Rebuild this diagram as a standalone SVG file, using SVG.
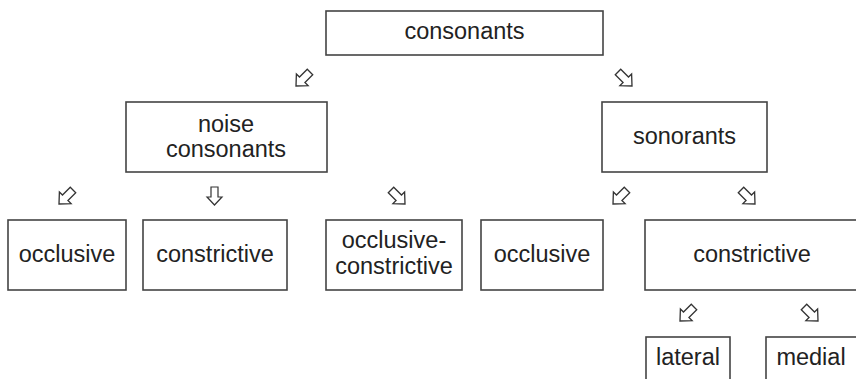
<svg xmlns="http://www.w3.org/2000/svg" width="856" height="379" viewBox="0 0 856 379">
<defs>
<style>
.box{fill:#fff;stroke:#444;stroke-width:1.6}
.t{font-family:"Liberation Sans",Arial,sans-serif;font-size:23.5px;fill:#222;text-anchor:middle}
.arr{fill:#fff;stroke:#333;stroke-width:1.2;stroke-linejoin:miter}
</style>
<polygon id="a" points="-3.5,-9 3.5,-9 3.5,1 7.5,1 0,9 -7.5,1 -3.5,1"/>
</defs>
<rect width="856" height="379" fill="#fff"/>
<g id="connectors">
<use href="#a" class="arr" transform="translate(303,79) scale(1.1) rotate(45)"/>
<use href="#a" class="arr" transform="translate(625,79) scale(1.1) rotate(-45)"/>
<use href="#a" class="arr" transform="translate(66,197) scale(1.1) rotate(45)"/>
<use href="#a" class="arr" transform="translate(214.5,196)"/>
<use href="#a" class="arr" transform="translate(398,197) scale(1.1) rotate(-45)"/>
<use href="#a" class="arr" transform="translate(620,197) scale(1.1) rotate(45)"/>
<use href="#a" class="arr" transform="translate(748,197) scale(1.1) rotate(-45)"/>
<use href="#a" class="arr" transform="translate(687,314) scale(1.1) rotate(45)"/>
<use href="#a" class="arr" transform="translate(811,314) scale(1.1) rotate(-45)"/>
</g>
<g id="consonants">
<rect class="box" x="326" y="11" width="277" height="44"/>
<text class="t" x="464.5" y="39">consonants</text>
</g>
<g id="noise">
<rect class="box" x="126" y="102" width="201" height="70"/>
<text class="t" x="226" y="132">noise</text>
<text class="t" x="226" y="157">consonants</text>
</g>
<g id="sonorants">
<rect class="box" x="602" y="102" width="165" height="70"/>
<text class="t" x="684.5" y="144">sonorants</text>
</g>
<g id="occlusive1">
<rect class="box" x="8" y="220" width="118" height="70"/>
<text class="t" x="67" y="262">occlusive</text>
</g>
<g id="constrictive1">
<rect class="box" x="143" y="220" width="144" height="70"/>
<text class="t" x="215" y="262">constrictive</text>
</g>
<g id="occlusive-constrictive">
<rect class="box" x="326" y="220" width="136" height="70"/>
<text class="t" x="394" y="248">occlusive-</text>
<text class="t" x="394" y="274">constrictive</text>
</g>
<g id="occlusive2">
<rect class="box" x="481" y="220" width="122" height="70"/>
<text class="t" x="542" y="262">occlusive</text>
</g>
<g id="constrictive2">
<rect class="box" x="645" y="220" width="215" height="70"/>
<text class="t" x="752" y="262">constrictive</text>
</g>
<g id="lateral">
<rect class="box" x="646" y="337" width="84" height="50"/>
<text class="t" x="688" y="365">lateral</text>
</g>
<g id="medial">
<rect class="box" x="766" y="337" width="94" height="50"/>
<text class="t" x="811" y="365">medial</text>
</g>
</svg>
